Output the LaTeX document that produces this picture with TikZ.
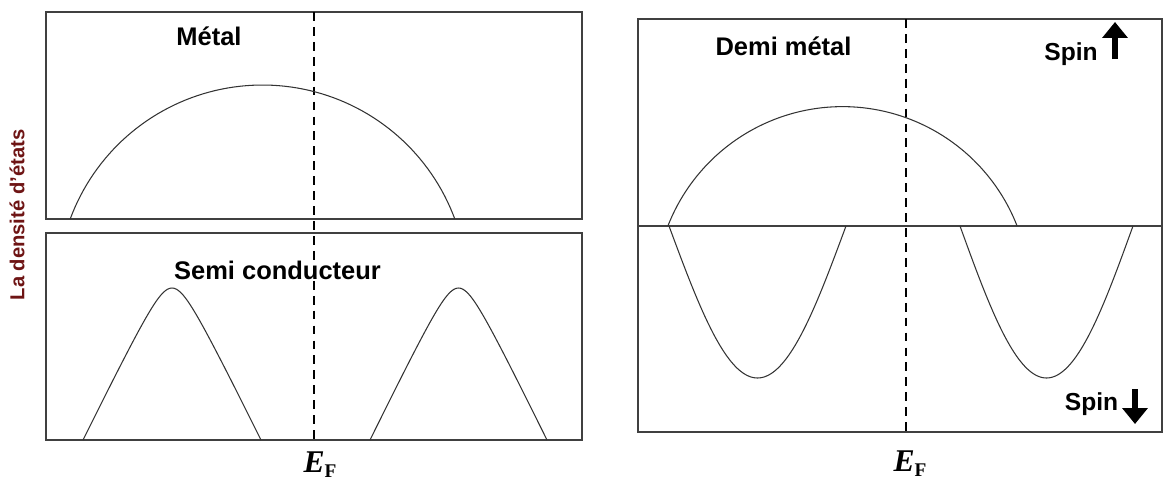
\documentclass[tikz,border=0pt]{standalone}
\usepackage{fontspec}
\setmainfont{Liberation Sans}
\newfontfamily\efont{Liberation Serif}
\usetikzlibrary{positioning, arrows.meta, calc}
\definecolor{framegray}{RGB}{64,64,64}
\definecolor{labelred}{RGB}{110,20,20}

\begin{document}
\begin{tikzpicture}[
        x=0.02cm, y=-0.02cm,
        panel/.style={draw=framegray, line width=0.9pt},
        dos/.style={draw=black!80, line width=0.6pt},
        fermi/.style={draw=black, line width=0.7pt, dash pattern=on 5pt off 3.5pt},
        title/.style={font=\bfseries\fontsize{14.5}{16}\selectfont, anchor=base, inner sep=0pt},
        spinlbl/.style={font=\bfseries\fontsize{14}{16}\selectfont, anchor=base, inner sep=0pt},
        spinarr/.style={line width=3.8pt, -{Triangle[length=9pt, width=14pt]}},
        eflbl/.style={anchor=base, inner sep=0pt},
    ]
        \useasboundingbox (0,0) rectangle (1166,481);

        % Panels
        \draw[panel] (46,12) rectangle (582,219);
        \draw[panel] (46,233) rectangle (582,440);
        \draw[panel] (638,19) rectangle (1162,432);
        \draw[panel] (638,226) -- (1162,226);

        % Fermi level
        \coordinate (efLtop) at (314,12);
        \coordinate (efLbot) at (314,440);
        \coordinate (efRtop) at (906,19);
        \coordinate (efRbot) at (906,432);
        \draw[fermi] (efLtop) -- (efLbot);
        \draw[fermi] (efRtop) -- (efRbot);

        % Metal band
        \draw[dos] plot[domain=20.3:159.7, samples=80] ({262.5+205*cos(\x)}, {290-205*sin(\x)});

        % Semiconductor bands
        \draw[dos] plot[domain=-1:1, samples=81] ({172+89*\x}, {440-181.8*(1.0161-sqrt((\x)*(\x)+0.0324))});
        \draw[dos] plot[domain=-1:1, samples=81] ({458.5+88.5*\x}, {440-181.8*(1.0161-sqrt((\x)*(\x)+0.0324))});

        % Half metal: spin up
        \draw[dos] plot[domain=21.3:158.7, samples=80] ({842.5+187.4*cos(\x)}, {294-187.4*sin(\x)});

        % Half metal: spin down
        \draw[dos] plot[domain=-1:1, samples=81] ({757.5+88.5*\x}, {226+152*cos(90*\x)});
        \draw[dos] plot[domain=-1:1, samples=81] ({1046.5+86.5*\x}, {226+152*cos(90*\x)});

        % Titles
        \node[title] (metal) at (209,45) {Métal};
        \node[title] (semi) at (277.5,279) {Semi conducteur};
        \node[title] (demi) at (783.5,55) {Demi métal};

        % Spin labels
        \node[spinlbl] (spinup) at (1071,60) {Spin};
        \node[spinlbl] (spindown) at (1091.5,410) {Spin};
        \coordinate (upfoot) at (1115,59);
        \coordinate (uptip) at (1115,22);
        \coordinate (downfoot) at (1135,389);
        \coordinate (downtip) at (1135,424);
        \draw[spinarr] (upfoot) -- (uptip);
        \draw[spinarr] (downfoot) -- (downtip);

        % Axis label
        \node[rotate=90, font=\bfseries\fontsize{11.5}{13}\selectfont, text=labelred] (dosaxis) at (17,215) {La densité d'états};

        % E_F labels
        \node[eflbl] (efL) at (320,472) {\efont{\fontsize{18}{18}\selectfont\bfseries\itshape E}\raisebox{-3pt}{\efont\fontsize{11}{11}\selectfont\bfseries F}};
        \node[eflbl] (efR) at (910,471) {\efont{\fontsize{18}{18}\selectfont\bfseries\itshape E}\raisebox{-3pt}{\efont\fontsize{11}{11}\selectfont\bfseries F}};
    \end{tikzpicture}
\end{document}
